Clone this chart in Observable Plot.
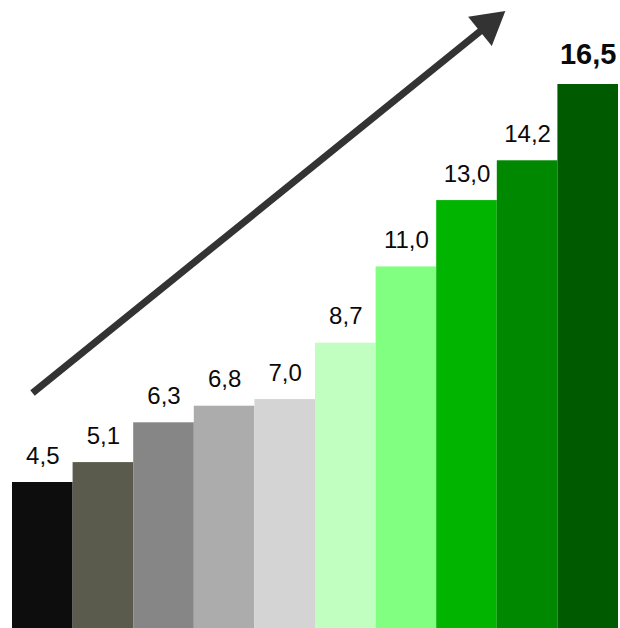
<!DOCTYPE html>
<html>
<head>
<meta charset="utf-8">
<script src="https://cdn.jsdelivr.net/npm/d3@7"></script>
<script src="https://cdn.jsdelivr.net/npm/@observablehq/plot@0.6"></script>
<style>
  html, body { margin: 0; padding: 0; background: #fff; }
  #chart svg { display: block; }
</style>
</head>
<body>
<div id="chart"></div>
<script>
// Ten rising steps, each bar labelled with its value
const values = [4.5, 5.1, 6.3, 6.8, 7.0, 8.7, 11.0, 13.0, 14.2, 16.5];
const labels = ["4,5", "5,1", "6,3", "6,8", "7,0", "8,7", "11,0", "13,0", "14,2", "16,5"];
const colors = ["#0d0d0d", "#5a5b4c", "#868686", "#acacac", "#d4d4d4",
                "#c0ffc0", "#80ff80", "#00b400", "#008800", "#005a00"];

// Trend arrow, tail and tip in data units (bar index, value)
const arrowTail = [0.33, 7.2];
const arrowTip = [8.1, 18.67];

const bars = values.map((v, i) => ({i, v, label: labels[i], color: colors[i], last: i === values.length - 1}));

// Shaft stops at the base of the filled head
const sx = Plot.scale({x: {domain: [0, 10], range: [12, 618]}});
const sy = Plot.scale({y: {domain: [0, 16.5], range: [631.25, 84]}});
const p0 = [sx.apply(arrowTail[0]), sy.apply(arrowTail[1])];
const p1 = [sx.apply(arrowTip[0]), sy.apply(arrowTip[1])];
const len = Math.hypot(p1[0] - p0[0], p1[1] - p0[1]);
const ux = (p1[0] - p0[0]) / len, uy = (p1[1] - p0[1]) / len;
const headLen = 31;
const shaftEnd = [sx.invert(p1[0] - ux * (headLen - 4)), sy.invert(p1[1] - uy * (headLen - 4))];
const headCenter = [sx.invert(p1[0] - ux * headLen * 0.62), sy.invert(p1[1] - uy * headLen * 0.62)];
const headAngle = Math.atan2(ux, -uy) * 180 / Math.PI;

const chart = Plot.plot({
  width: 620,
  height: 628,
  margin: 0,
  style: {fontFamily: "'Liberation Sans', Arial, sans-serif", background: "#fff"},
  x: {domain: [0, 10], range: [12, 618], axis: null},
  y: {domain: [0, 16.5], range: [631.25, 84], axis: null},
  marks: [
    Plot.rectY(bars, {x1: d => d.i, x2: d => d.i + 1, y1: 0, y2: "v", fill: "color"}),
    Plot.text(bars.filter(d => !d.last), {
      x: d => d.i + 0.5, y: "v", text: "label",
      fontSize: 24, fill: "#0a0a0a", lineAnchor: "bottom", dy: -19
    }),
    Plot.text(bars.filter(d => d.last), {
      x: d => d.i + 0.5, y: "v", text: "label",
      fontSize: 29, fontWeight: "bold", fill: "#0a0a0a", lineAnchor: "bottom", dy: -21
    }),
    Plot.line([arrowTail, shaftEnd], {
      x: d => d[0], y: d => d[1], stroke: "#333333", strokeWidth: 7, strokeLinecap: "butt"
    }),
    Plot.dot([headCenter], {
      x: d => d[0], y: d => d[1], symbol: "triangle", r: 14,
      fill: "#333333", stroke: "none", rotate: headAngle
    })
  ]
});

document.getElementById("chart").appendChild(chart);
</script>
</body>
</html>
